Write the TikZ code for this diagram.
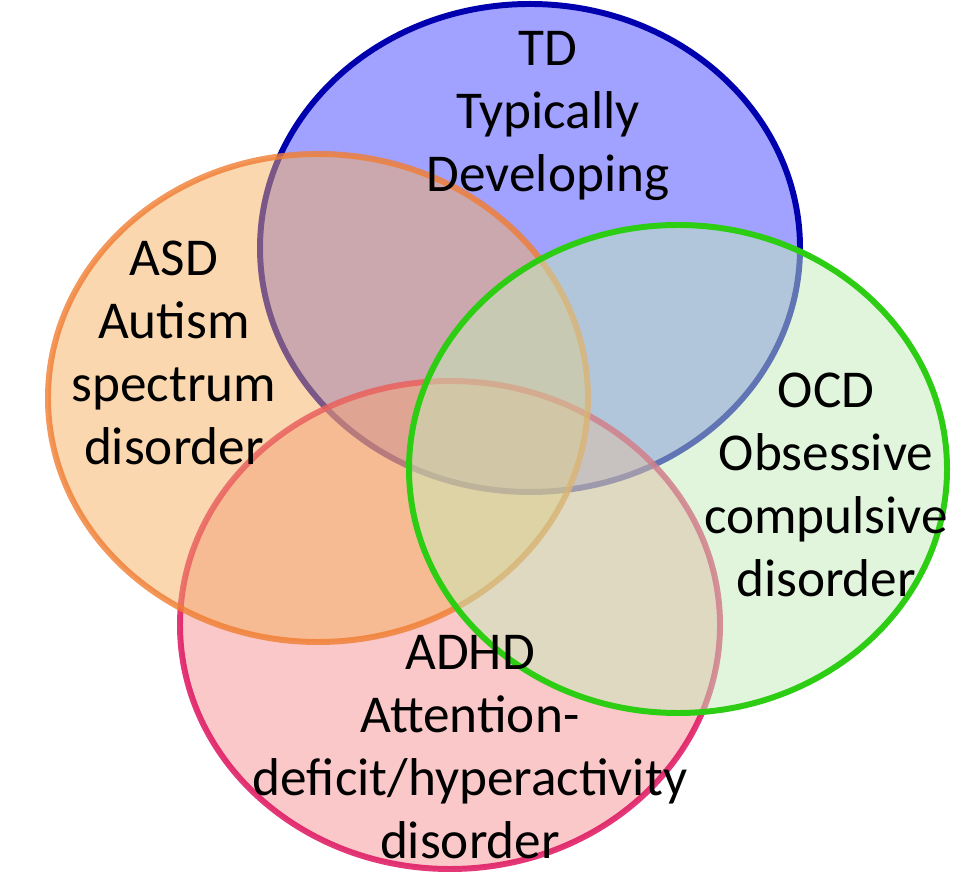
\documentclass[tikz,border=0pt]{standalone}
\usepackage{fontspec}
\setmainfont{Carlito}
\usepackage{tikz}

\definecolor{tdline}{RGB}{0,0,175}
\definecolor{tdfill}{RGB}{0,0,255}
\definecolor{asdline}{RGB}{240,125,50}
\definecolor{asdfill}{RGB}{245,175,95}
\definecolor{adhdline}{RGB}{222,20,95}
\definecolor{adhdfill}{RGB}{245,145,145}
\definecolor{ocdline}{RGB}{45,205,20}
\definecolor{ocdfill}{RGB}{195,235,185}

\begin{document}
\begin{tikzpicture}[x=0.02cm, y=0.02cm,
  venn/.style={line width=3.4pt},
  label/.style={align=center, font=\fontsize{30.3}{36}\selectfont}]
\useasboundingbox (0,0) rectangle (955,871);

% TD (back)
\draw[venn, draw=tdline, fill=tdfill, fill opacity=0.37] (530,623) ellipse [x radius=270, y radius=244];

% ADHD
\draw[venn, draw=adhdline, draw opacity=0.85, fill=adhdfill, fill opacity=0.5] (450,246) ellipse [x radius=270, y radius=244];

% ASD
\draw[venn, draw=asdline, draw opacity=0.8, fill=asdfill, fill opacity=0.5] (318,473) ellipse [x radius=270, y radius=244];

% OCD (front)
\draw[venn, draw=ocdline, fill=ocdfill, fill opacity=0.5] (678,402) ellipse [x radius=269, y radius=244];

% Labels
\node[label] (td) at (548,755) {TD\\Typically\\Developing};
\node[label] (asd) at (174,518) {ASD\\Autism\\spectrum\\disorder};
\node[label] (ocd) at (826,386) {OCD\\Obsessive\\compulsive\\disorder};
\node[label] (adhd) at (470,124) {ADHD\\Attention-\\deficit/hyperactivity\\disorder};

\end{tikzpicture}
\end{document}
